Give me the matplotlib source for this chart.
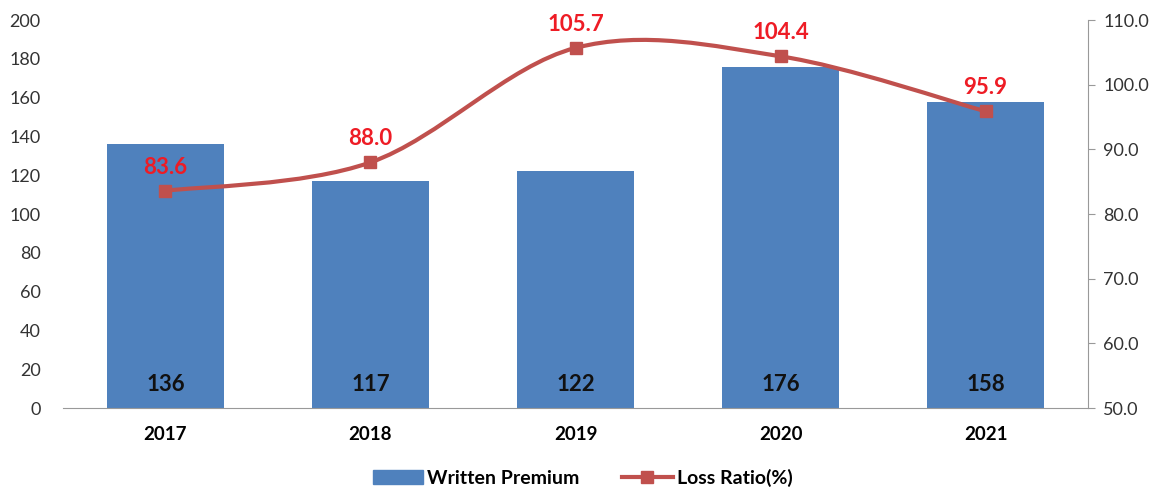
import numpy as np
import matplotlib
matplotlib.use("Agg")
from matplotlib import pyplot as plt
from matplotlib.path import Path
from matplotlib.patches import PathPatch
from matplotlib.lines import Line2D
from matplotlib.patches import Patch

years = ['2017', '2018', '2019', '2020', '2021']
premium = [136, 117, 122, 176, 158]
loss_ratio = [83.6, 88.0, 105.7, 104.4, 95.9]

bar_color = '#4f81bd'
line_color = '#c0504d'
label_red = '#ee1c25'

plt.rcParams['font.family'] = ['Lato', 'DejaVu Sans']

fig = plt.figure(figsize=(11.65, 4.9), dpi=100)
ax = fig.add_axes([0.054, 0.167, 0.880, 0.792])
ax2 = ax.twinx()

xs = np.arange(len(years))
bars = ax.bar(xs, premium, width=0.57, color=bar_color, zorder=2)
for x, v in zip(xs, premium):
    ax.text(x, 12, str(v), ha='center', va='center', fontsize=16,
            fontweight='bold', color='#111111')

ax.set_xlim(-0.5, len(years) - 0.5)
ax.set_ylim(0, 200)
ax.set_yticks(range(0, 201, 20))
ax.set_xticks(xs)
ax.set_xticklabels(years, fontsize=13.5, fontweight='bold')
ax.tick_params(axis='y', length=0, labelsize=13, pad=16, labelcolor='#333333')
ax.tick_params(axis='x', length=0, pad=13)
for s in ['top', 'left', 'right']:
    ax.spines[s].set_visible(False)
ax.spines['bottom'].set_color('#999999')

ax2.set_ylim(50, 110)
ax2.set_yticks(range(50, 111, 10))
ax2.set_yticklabels(['%.1f' % t for t in range(50, 111, 10)])
ax2.tick_params(axis='y', direction='out', length=5, color='#999999',
                labelsize=13, pad=6, labelcolor='#333333')
for s in ['top', 'left', 'bottom']:
    ax2.spines[s].set_visible(False)
ax2.spines['right'].set_color('#999999')

# smoothed line through the points (Excel style bezier)
pts = np.column_stack([xs, loss_ratio]).astype(float)
verts = [pts[0]]
codes = [Path.MOVETO]
n = len(pts)
for i in range(n - 1):
    p0 = pts[i - 1] if i > 0 else pts[i]
    p1 = pts[i]
    p2 = pts[i + 1]
    p3 = pts[i + 2] if i + 2 < n else pts[i + 1]
    c1 = p1 + (p2 - p0) / 6.0
    c2 = p2 - (p3 - p1) / 6.0
    verts += [c1, c2, p2]
    codes += [Path.CURVE4] * 3
ax2.add_patch(PathPatch(Path(verts, codes), fill=False, edgecolor=line_color,
                        linewidth=3, zorder=3))
ax2.plot(xs, loss_ratio, linestyle='none', marker='s', markersize=8,
         color=line_color, zorder=4)
for x, v in zip(xs, loss_ratio):
    ax2.annotate('%.1f' % v, (x, v), xytext=(0, 17), textcoords='offset points',
                 ha='center', va='center', fontsize=16, fontweight='bold',
                 color=label_red)

handles = [Patch(color=bar_color),
           Line2D([], [], color=line_color, linewidth=3, marker='s', markersize=8)]
fig.legend(handles, ['Written Premium', 'Loss Ratio(%)'], loc='center',
           bbox_to_anchor=(0.5, 0.025), ncol=2, frameon=False,
           prop={'size': 14, 'weight': 'bold'}, handlelength=2.6,
           handletextpad=0.2, columnspacing=2.2)

fig.savefig('out.png', dpi=100)
